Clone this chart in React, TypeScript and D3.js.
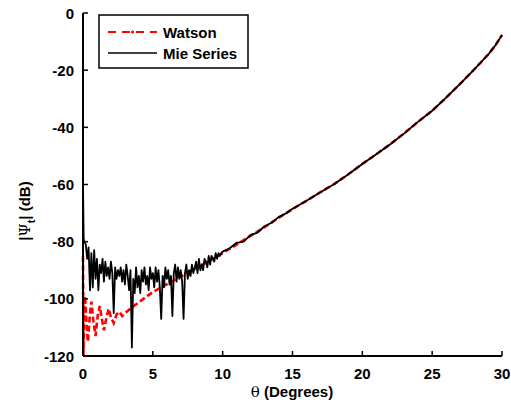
import React from "react";
import * as d3 from "d3";

const xTicks = [0, 5, 10, 15, 20, 25, 30];
const yTicks = [0, -20, -40, -60, -80, -100, -120];

const watsonTheta = [0, 0.03, 0.1, 0.15, 0.25, 0.35, 0.5, 0.6, 0.75, 0.9, 1.05, 1.2, 1.35, 1.5, 1.7, 1.85, 2.0, 2.2, 2.4, 2.6, 2.8, 3.0, 3.5, 4, 4.5, 5, 6, 7, 8, 9, 10, 11, 12, 13, 14, 15, 16, 17, 18, 19, 20, 21, 22, 23, 24, 25, 26, 27, 28, 29, 29.5, 30];
const watsonDb = [-85, -120, -103, -99, -108, -115, -105, -101, -108, -113, -106, -102.5, -107, -111, -106, -103.5, -106.5, -108.5, -105.5, -104.5, -106, -105, -103, -101.2, -99.4, -97.6, -94.9, -92.2, -89.5, -86.8, -84, -81, -78, -74.9, -71.7, -68.6, -65.7, -62.7, -59.8, -56.4, -52.8, -49.4, -45.9, -42.1, -38.0, -34.2, -29.6, -24.8, -19.8, -14.6, -11.5, -7.7];

const mieTheta = [0, 0.05, 0.1, 0.2, 0.3, 0.4, 0.5, 0.6, 0.7, 0.8, 0.9, 1.0, 1.1, 1.2, 1.3, 1.4, 1.5, 1.6, 1.7, 1.8, 1.9, 2.0, 2.1, 2.2, 2.3, 2.4, 2.5, 2.6, 2.7, 2.8, 2.9, 3.0, 3.1, 3.2, 3.3, 3.4, 3.5, 3.6, 3.7, 3.8, 3.9, 4.0, 4.1, 4.2, 4.3, 4.4, 4.5, 4.6, 4.7, 4.8, 4.9, 5.0, 5.1, 5.2, 5.3, 5.4, 5.5, 5.6, 5.7, 5.8, 5.9, 6.0, 6.1, 6.2, 6.3, 6.4, 6.5, 6.6, 6.7, 6.8, 6.9, 7.0, 7.1, 7.2, 7.3, 7.4, 7.5, 7.6, 7.7, 7.8, 7.9, 8.0, 8.1, 8.2, 8.3, 8.4, 8.5, 8.6, 8.7, 8.8, 8.9, 9.0, 9.1, 9.2, 9.3, 9.4, 9.5, 9.6, 9.7, 9.8, 9.9, 10.0, 10.5, 11, 11.5, 12, 12.5, 13, 13.5, 14, 14.5, 15, 16, 17, 18, 19, 20, 21, 22, 23, 24, 25, 26, 27, 28, 29, 29.5, 30];
const mieDb = [-60, -79, -80, -81, -86, -82, -97, -84, -96, -83, -93, -86, -97, -88, -91, -86, -94, -87, -92, -89, -93, -87, -91, -105, -89, -93, -90, -92, -89, -94, -90, -95, -88, -92, -97, -90, -117, -93, -98, -89, -96, -92, -98, -90, -94, -89, -95, -92, -97, -89, -93, -91, -96, -89, -94, -90, -96, -107, -92, -96, -89, -93, -90, -95, -92, -106, -91, -88, -94, -89, -93, -90, -94, -107, -91, -88, -93, -90, -92, -88, -91, -89, -87, -91, -86, -90, -88, -90, -86, -87, -89, -85, -88, -85, -86, -87, -84, -86, -84, -85, -84, -83.5, -82.3, -80.4, -80.0, -77.6, -76.8, -74.6, -73.4, -71.4, -70.2, -68.5, -65.7, -62.7, -59.8, -56.4, -52.8, -49.4, -45.9, -42.1, -38.0, -34.2, -29.6, -24.8, -19.8, -14.6, -11.5, -7.7];

const W = 511;
const H = 403;
const x = d3.scaleLinear().domain([0, 30]).range([83, 502]);
const y = d3.scaleLinear().domain([-120, 0]).range([356, 13]);

const font = "'Liberation Sans', Arial, Helvetica, sans-serif";

export default function App() {
  const watson = watsonTheta.map((t, i) => [t, watsonDb[i]] as [number, number]);
  const mie = mieTheta.map((t, i) => [t, mieDb[i]] as [number, number]);
  const lineLin = d3
    .line<[number, number]>()
    .x((d) => x(d[0]))
    .y((d) => y(d[1]));

  return (
    <svg
      width={W}
      height={H}
      style={{ position: "absolute", left: 0, top: 0, background: "#fff" }}
      fontFamily={font}
    >
      <rect width={W} height={H} fill="#fff" />
      <path d={lineLin(watson) || ""} fill="none" stroke="#ff0000" strokeWidth={2.6} strokeDasharray="6,3" />
      <path d={lineLin(mie) || ""} fill="none" stroke="#000" strokeWidth={1.8} strokeLinejoin="round" />
      <line x1={x(0)} x2={x(0)} y1={y(0)} y2={y(-120)} stroke="#000" strokeWidth={2} />
      <line x1={x(0)} x2={x(30)} y1={y(-120)} y2={y(-120)} stroke="#000" strokeWidth={2} />
      {yTicks.map((t) => (
        <g key={"y" + t}>
          <line x1={x(0)} x2={x(0) + 5} y1={y(t)} y2={y(t)} stroke="#000" strokeWidth={1.5} />
          <text x={74} y={y(t) + 5.5} textAnchor="end" fontSize={15} fontWeight="bold">
            {t}
          </text>
        </g>
      ))}
      {xTicks.map((t) => (
        <g key={"x" + t}>
          <line x1={x(t)} x2={x(t)} y1={y(-120)} y2={y(-120) - 5} stroke="#000" strokeWidth={1.5} />
          <text x={x(t)} y={379} textAnchor="middle" fontSize={15} fontWeight="bold">
            {t}
          </text>
        </g>
      ))}
      <text x={292} y={397} textAnchor="middle" fontSize={15} fontWeight="bold">
        <tspan fontWeight="normal" fontFamily="'DejaVu Serif', serif">θ</tspan> (Degrees)
      </text>
      <text
        transform="translate(30,211) rotate(-90)"
        textAnchor="middle"
        fontSize={15}
        fontWeight="bold"
      >
        |<tspan fontWeight="normal" fontFamily="'DejaVu Serif', serif">Ψ</tspan>
        <tspan dy={5} fontSize={11}>t</tspan>
        <tspan dy={-5}>| (dB)</tspan>
      </text>
      <rect x={99} y={15} width={149} height={53} fill="#fff" stroke="#000" strokeWidth={1.5} />
      <line x1={108} x2={157} y1={32} y2={32} stroke="#ff0000" strokeWidth={2} strokeDasharray="8,6" />
      <circle cx={132.5} cy={32} r={1.5} fill="#ff0000" />
      <text x={163} y={37.5} fontSize={15} fontWeight="bold">Watson</text>
      <line x1={108} x2={157} y1={53} y2={53} stroke="#000" strokeWidth={1.5} />
      <text x={163} y={59} fontSize={15} fontWeight="bold">Mie Series</text>
    </svg>
  );
}
